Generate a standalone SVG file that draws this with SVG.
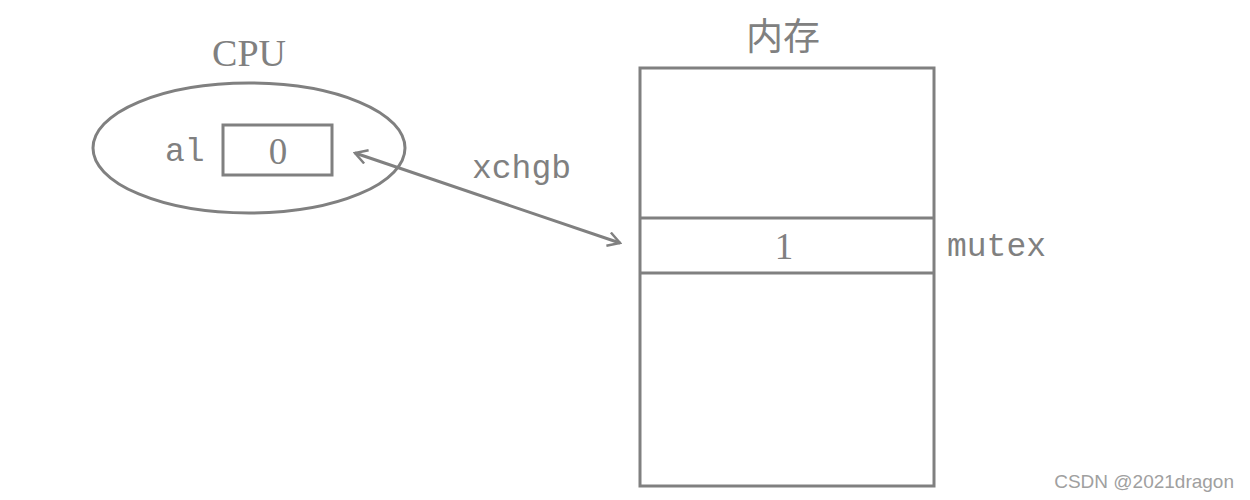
<svg xmlns="http://www.w3.org/2000/svg" width="1250" height="500" viewBox="0 0 1250 500">
<defs>
<style>
.s{fill:none;stroke:#808080;stroke-width:3}
.serif{font-family:"Liberation Serif","Noto Sans CJK SC",serif;fill:#808080}
.mono{font-family:"Liberation Mono","DejaVu Sans Mono",monospace;fill:#808080;font-size:33px}
</style>
<marker id="ah" markerWidth="16" markerHeight="16" refX="14" refY="8" orient="auto-start-reverse" markerUnits="userSpaceOnUse">
<path d="M2,1 L14,8 L2,15" fill="none" stroke="#808080" stroke-width="2.5"/>
</marker>
</defs>
<rect width="1250" height="500" fill="#fff"/>
<g id="cpu">
<text class="serif" x="249" y="66" font-size="38" text-anchor="middle">CPU</text>
<ellipse class="s" cx="249" cy="148" rx="156" ry="65"/>
<text class="mono" x="165" y="161">al</text>
<rect class="s" x="223" y="125" width="109" height="50"/>
<text class="serif" x="278" y="164" font-size="37" text-anchor="middle">0</text>
</g>
<g id="memory">
<text class="serif" x="783" y="50" font-size="37" text-anchor="middle">内存</text>
<rect class="s" x="640" y="68" width="294" height="418"/>
<line class="s" x1="640" y1="218" x2="934" y2="218"/>
<line class="s" x1="640" y1="273" x2="934" y2="273"/>
<text class="serif" x="784" y="259" font-size="37" text-anchor="middle">1</text>
<text class="mono" x="947" y="256">mutex</text>
</g>
<g id="connectors">
<line class="s" x1="355" y1="153" x2="620" y2="243" stroke-width="2.5" marker-start="url(#ah)" marker-end="url(#ah)"/>
<text class="mono" x="472" y="178">xchgb</text>
</g>
<text x="1234" y="488" font-family="Liberation Sans,sans-serif" font-size="19" fill="#a0a0a0" text-anchor="end">CSDN @2021dragon</text>
</svg>
